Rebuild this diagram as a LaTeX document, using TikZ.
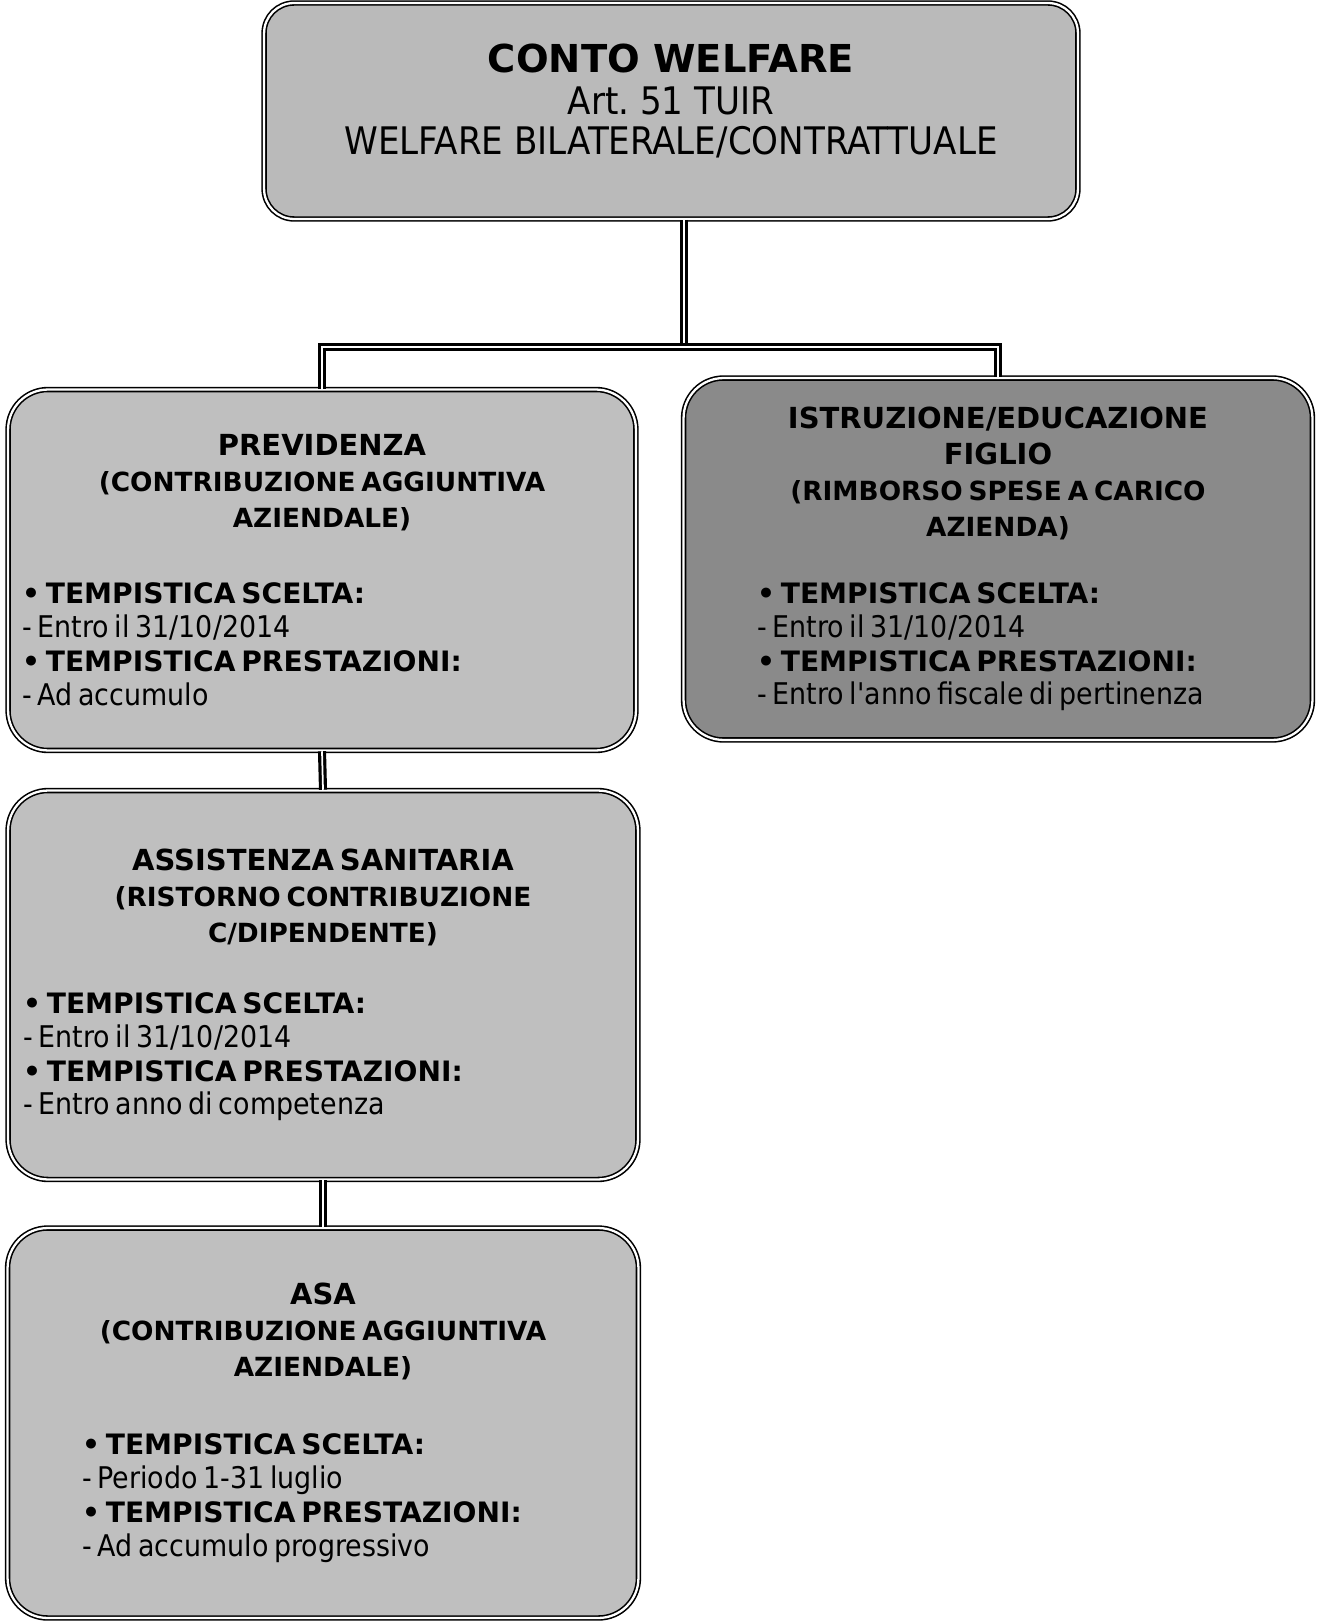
\documentclass[tikz,border=0pt]{standalone}
\usepackage{fontspec}
\setmainfont{DejaVu Sans}
\newfontfamily\condfont{DejaVu Sans Condensed}
\usetikzlibrary{positioning,calc,shadows}

\newcommand{\titolo}{\fontsize{16.5}{20.5}\selectfont\bfseries}
\newcommand{\sottotitolo}{\fontsize{15}{20.5}\selectfont\bfseries}
\newcommand{\voce}{\fontsize{16}{19.3}\selectfont\normalfont\bfseries}
\newcommand{\dettaglio}{\fontsize{17}{19.3}\selectfont\condfont\mdseries}

% #1 intestazione, #2 spazio, #3 rientro, #4 scelta, #5 prestazioni
\newcommand{\scheda}[5]{%
  \parindent=0pt
  {\centering #1\par}\vspace{#2}%
  {\leftskip=#3\relax
   \voce\textbullet\ TEMPISTICA SCELTA:\par
   \dettaglio - #4\par
   \voce\textbullet\ TEMPISTICA PRESTAZIONI:\par
   \dettaglio - #5\par}}

\tikzset{
  casella/.style={draw=black, line width=0.9pt, double=white, double distance=1.3pt,
    rounded corners=0.8cm, fill=black!25, align=left, text width=12cm,
    drop shadow={shadow xshift=1pt, shadow yshift=-1pt, fill=black, opacity=1}},
  collegamento/.style={draw=black, line width=1.8pt, double=white, double distance=1pt}
}

\begin{document}
\begin{tikzpicture}[x=0.02cm, y=-0.02cm]
    \useasboundingbox (0,0) rectangle (1321,1621);

    \node[casella, fill=black!27, rounded corners=0.6cm,
          minimum width=16.28cm, minimum height=4.32cm] (conto) at (671,111) {};
    \node[align=center, font=\fontsize{21.6}{23}\selectfont\condfont] (contotesto) at (671,101)
        {{\rmfamily\bfseries\fontsize{21.9}{23}\selectfont CONTO WELFARE}\\[0.03cm] Art.\ 51 TUIR\\ WELFARE BILATERALE/CONTRATTUALE};

    \node[casella, minimum width=12.56cm, minimum height=7.22cm] (prev) at (322,570)
        {\scheda{\titolo PREVIDENZA\\ \sottotitolo (CONTRIBUZIONE AGGIUNTIVA\\ AZIENDALE)}
                {0.86cm}{0pt}{Entro il 31/10/2014}{Ad accumulo}};

    \node[casella, fill=black!46, minimum width=12.58cm, minimum height=7.24cm] (istr) at (998,559)
        {\scheda{\titolo ISTRUZIONE/EDUCAZIONE\\ FIGLIO\\ \sottotitolo (RIMBORSO SPESE A CARICO\\ AZIENDA)}
                {0.66cm}{1.18cm}{Entro il 31/10/2014}{Entro l'anno fiscale di pertinenza}};

    \node[casella, minimum width=12.6cm, minimum height=7.78cm] (assist) at (323,985)
        {\scheda{\titolo ASSISTENZA SANITARIA\\ \sottotitolo (RISTORNO CONTRIBUZIONE\\ C/DIPENDENTE)}
                {0.74cm}{0pt}{Entro il 31/10/2014}{Entro anno di competenza}};

    \node[casella, minimum width=12.62cm, minimum height=7.8cm] (asa) at (323,1423)
        {\scheda{\titolo ASA\\ \sottotitolo (CONTRIBUZIONE AGGIUNTIVA\\ AZIENDALE)}
                {0.88cm}{1.18cm}{Periodo 1-31 luglio}{Ad accumulo progressivo}};

    % collegamenti
    \coordinate (snodo) at (684,347);
    \draw[collegamento] (conto.south -| snodo) -- (snodo);
    \draw[collegamento] (prev.north) |- (snodo) -| (istr.north);
    \draw[collegamento] (prev.south) -- (assist.north);
    \draw[collegamento] (assist.south) -- (asa.north);
\end{tikzpicture}
\end{document}
